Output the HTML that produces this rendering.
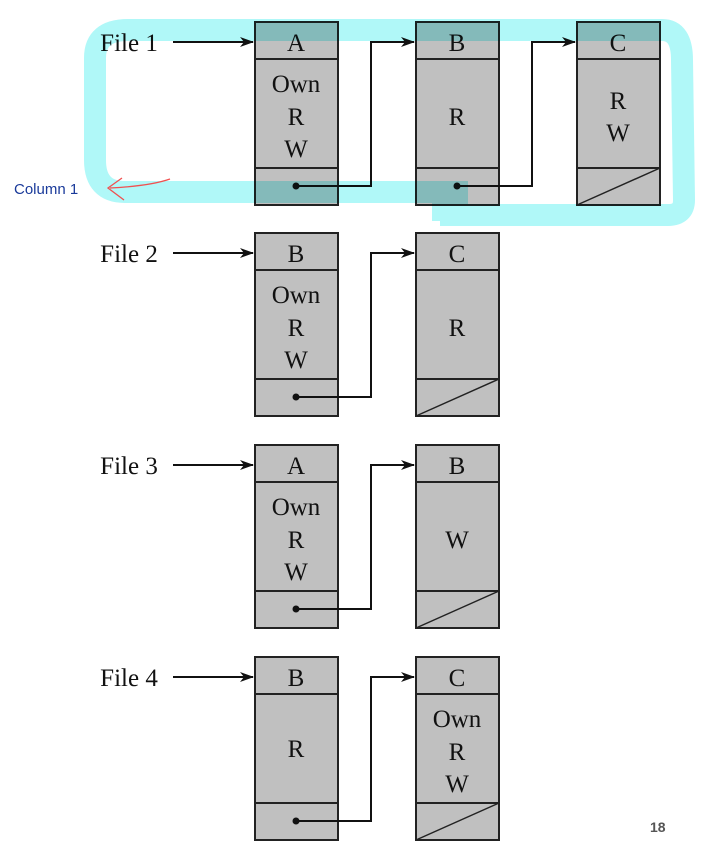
<!DOCTYPE html>
<html><head><style>
html,body{margin:0;padding:0;background:#fff;}
svg{display:block;}
text{font-family:"Liberation Serif",serif;font-size:25px;fill:#111;}
</style></head><body>
<svg width="708" height="860" viewBox="0 0 708 860" xmlns="http://www.w3.org/2000/svg">
<defs>
<marker id="ah" markerWidth="14" markerHeight="10" refX="13" refY="5" orient="auto" markerUnits="userSpaceOnUse">
<path d="M0,0 L14,5 L0,10 L4,5 Z" fill="#111"/>
</marker>
<g id="box">
<rect x="0" y="0" width="83" height="183" fill="#c0c0c0" stroke="#222" stroke-width="2"/>
<line x1="0" y1="37" x2="83" y2="37" stroke="#222" stroke-width="2"/>
<line x1="0" y1="146" x2="83" y2="146" stroke="#222" stroke-width="2"/>
</g>
<g id="nil"><line x1="0" y1="183" x2="83" y2="146" stroke="#222" stroke-width="1.5"/></g>
</defs>

<!-- rows -->
<g text-anchor="middle">
<!-- File 1 -->
<g transform="translate(0,22)">
<text x="129" y="29" text-anchor="middle">File 1</text>
<line x1="173" y1="20" x2="253" y2="20" stroke="#111" stroke-width="2" marker-end="url(#ah)"/>
<use href="#box" x="255"/><use href="#box" x="416"/><use href="#box" x="577"/>
<use href="#nil" x="577"/>
<text x="296" y="29">A</text><text x="296" y="70">Own</text><text x="296" y="103">R</text><text x="296" y="135">W</text>
<text x="457" y="29">B</text><text x="457" y="103">R</text>
<text x="618" y="29">C</text><text x="618" y="87">R</text><text x="618" y="119">W</text>
<circle cx="296" cy="164" r="3.5" fill="#111"/>
<polyline points="296,164 371,164 371,20 414,20" fill="none" stroke="#111" stroke-width="2" marker-end="url(#ah)"/>
<circle cx="457" cy="164" r="3.5" fill="#111"/>
<polyline points="457,164 532,164 532,20 575,20" fill="none" stroke="#111" stroke-width="2" marker-end="url(#ah)"/>
</g>
<!-- File 2 -->
<g transform="translate(0,233)">
<text x="129" y="29">File 2</text>
<line x1="173" y1="20" x2="253" y2="20" stroke="#111" stroke-width="2" marker-end="url(#ah)"/>
<use href="#box" x="255"/><use href="#box" x="416"/><use href="#nil" x="416"/>
<text x="296" y="29">B</text><text x="296" y="70">Own</text><text x="296" y="103">R</text><text x="296" y="135">W</text>
<text x="457" y="29">C</text><text x="457" y="103">R</text>
<circle cx="296" cy="164" r="3.5" fill="#111"/>
<polyline points="296,164 371,164 371,20 414,20" fill="none" stroke="#111" stroke-width="2" marker-end="url(#ah)"/>
</g>
<!-- File 3 -->
<g transform="translate(0,445)">
<text x="129" y="29">File 3</text>
<line x1="173" y1="20" x2="253" y2="20" stroke="#111" stroke-width="2" marker-end="url(#ah)"/>
<use href="#box" x="255"/><use href="#box" x="416"/><use href="#nil" x="416"/>
<text x="296" y="29">A</text><text x="296" y="70">Own</text><text x="296" y="103">R</text><text x="296" y="135">W</text>
<text x="457" y="29">B</text><text x="457" y="103">W</text>
<circle cx="296" cy="164" r="3.5" fill="#111"/>
<polyline points="296,164 371,164 371,20 414,20" fill="none" stroke="#111" stroke-width="2" marker-end="url(#ah)"/>
</g>
<!-- File 4 -->
<g transform="translate(0,657)">
<text x="129" y="29">File 4</text>
<line x1="173" y1="20" x2="253" y2="20" stroke="#111" stroke-width="2" marker-end="url(#ah)"/>
<use href="#box" x="255"/><use href="#box" x="416"/><use href="#nil" x="416"/>
<text x="296" y="29">B</text><text x="296" y="100">R</text>
<text x="457" y="29">C</text><text x="457" y="70">Own</text><text x="457" y="103">R</text><text x="457" y="135">W</text>
<circle cx="296" cy="164" r="3.5" fill="#111"/>
<polyline points="296,164 371,164 371,20 414,20" fill="none" stroke="#111" stroke-width="2" marker-end="url(#ah)"/>
</g>
</g>

<!-- highlighter -->
<g style="mix-blend-mode:multiply" opacity="1">
<path d="M468,192 L125,192 Q95,192 95,160 L95,58 Q95,30 128,30 L662,30 Q682,30 682,60 L684,200 Q684,215 668,215 L440,215" fill="none" stroke="#b0f8f8" stroke-width="22" stroke-linejoin="round"/>
<rect x="432" y="181" width="36" height="40" fill="#b0f8f8"/>
</g>

<!-- annotation -->
<text x="14" y="194" style="font-family:'Liberation Sans',sans-serif;font-size:15px;fill:#1a3a9a;">Column 1</text>
<path d="M170,179 Q150,186 110,188 M122,178 L108,188 L124,200" fill="none" stroke="#f05050" stroke-width="1.3"/>

<text x="650" y="832" style="font-family:'Liberation Sans',sans-serif;font-size:14px;font-weight:bold;fill:#555;">18</text>
</svg>
</body></html>
